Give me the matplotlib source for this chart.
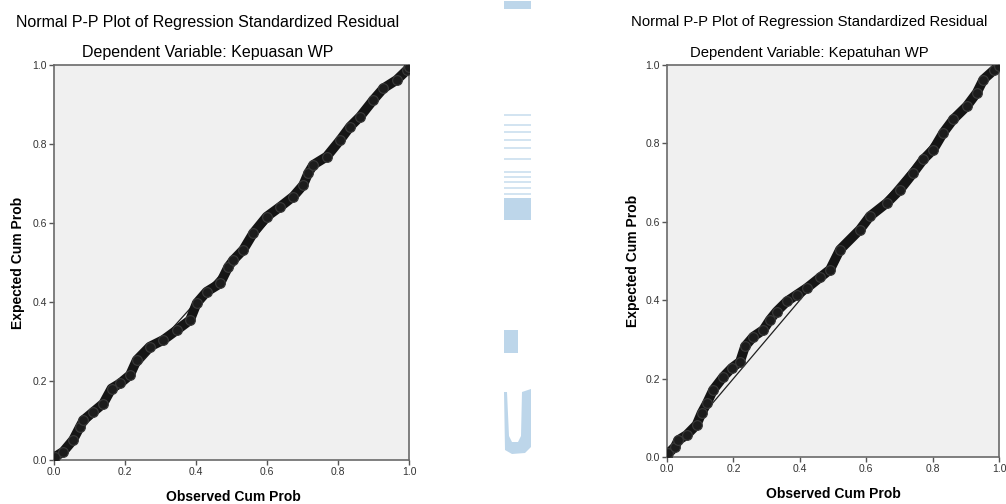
import matplotlib
matplotlib.use("Agg")
import matplotlib.pyplot as plt
from matplotlib.patches import Rectangle, Polygon

plt.rcParams['font.family'] = ['Liberation Sans', 'DejaVu Sans']

# ---------------- data ----------------
title_main = "Normal P-P Plot of Regression Standardized Residual"
dep_left = "Dependent Variable: Kepuasan WP"
dep_right = "Dependent Variable: Kepatuhan WP"
xlabel = "Observed Cum Prob"
ylabel = "Expected Cum Prob"
ticks = [0.0, 0.2, 0.4, 0.6, 0.8, 1.0]
tick_labels = ["0.0", "0.2", "0.4", "0.6", "0.8", "1.0"]

kep_obs = [0.0, 0.003, 0.026, 0.054, 0.073, 0.083, 0.111, 0.139, 0.162, 0.186,
           0.214, 0.233, 0.270, 0.308, 0.346, 0.383, 0.402, 0.430, 0.468, 0.491,
           0.505, 0.533, 0.561, 0.599, 0.637, 0.674, 0.702, 0.716, 0.730, 0.768,
           0.806, 0.834, 0.862, 0.899, 0.928, 0.965, 0.994, 1.0]
kep_exp = [0.0, 0.008, 0.021, 0.051, 0.084, 0.101, 0.122, 0.143, 0.181, 0.194,
           0.215, 0.253, 0.287, 0.304, 0.329, 0.354, 0.397, 0.426, 0.447, 0.489,
           0.506, 0.532, 0.574, 0.616, 0.641, 0.667, 0.696, 0.726, 0.747, 0.768,
           0.810, 0.844, 0.869, 0.911, 0.941, 0.962, 0.987, 0.995]

pat_obs = [0.0, 0.004, 0.024, 0.034, 0.059, 0.089, 0.104, 0.120, 0.139, 0.170,
           0.195, 0.220, 0.235, 0.260, 0.290, 0.310, 0.330, 0.361, 0.391, 0.421,
           0.461, 0.491, 0.521, 0.581, 0.611, 0.662, 0.702, 0.742, 0.772, 0.802,
           0.832, 0.862, 0.903, 0.933, 0.953, 0.986, 1.0]
pat_exp = [0.0, 0.009, 0.026, 0.043, 0.056, 0.082, 0.112, 0.137, 0.171, 0.205,
           0.227, 0.243, 0.282, 0.307, 0.324, 0.350, 0.371, 0.397, 0.414, 0.431,
           0.458, 0.478, 0.529, 0.580, 0.614, 0.648, 0.682, 0.725, 0.759, 0.784,
           0.827, 0.861, 0.895, 0.929, 0.963, 0.988, 0.997]

# ---------------- figure ----------------
W, H = 1006, 504
fig = plt.figure(figsize=(W / 100, H / 100), dpi=100)
fig.patch.set_facecolor("white")


def fx(x):
    return x / W


def fy(y):
    return 1 - y / H


def make_panel(box, obs, exp, dep, title_x, title_fs, xl_pos, yl_x):
    l, t, r, b = box
    ax = fig.add_axes([fx(l), fy(b), fx(r) - fx(l), fy(t) - fy(b)])
    ax.set_facecolor("#f0f0f0")
    ax.set_xlim(0, 1)
    ax.set_ylim(0, 1)
    ax.plot([0, 1], [0, 1], color="#202020", lw=0.9, zorder=2)
    ax.plot(obs, exp, color="#151515", lw=7, solid_capstyle="round",
            solid_joinstyle="round", zorder=3)
    ax.plot(obs, exp, linestyle="none", marker="o", ms=7, mfc="#1c1c1c",
            mec="#3a3a3a", mew=0.8, zorder=4)
    ax.set_xticks(ticks)
    ax.set_yticks(ticks)
    ax.set_xticklabels(tick_labels)
    ax.set_yticklabels(tick_labels)
    ax.tick_params(direction="out", length=3.5, width=1.0, color="#555555",
                   labelsize=7.5, labelcolor="#333333", pad=1.5)
    for s in ax.spines.values():
        s.set_color("#6a6a6a")
        s.set_linewidth(1.2)
    fig.text(fx(title_x), fy(22), title_main, ha="center", va="center",
             fontsize=title_fs, color="black")
    fig.text(fx(title_x), fy(53), dep, ha="center", va="center",
             fontsize=title_fs, color="black")
    fig.text(fx(xl_pos[0]), fy(xl_pos[1]), xlabel, ha="center", va="center",
             fontsize=10, fontweight="bold", color="black")
    fig.text(fx(yl_x), fy((t + b) / 2), ylabel, ha="center", va="center",
             rotation=90, fontsize=10, fontweight="bold", color="black")
    return ax


make_panel((54, 65, 409, 460), kep_obs, kep_exp, dep_left, 208, 11.5,
           (233, 497), 18)
make_panel((667, 65, 999, 457), pat_obs, pat_exp, dep_right, 809, 10.7,
           (833, 494), 633)

# ---------------- faint watermark in the middle ----------------
wm = "#bdd6ea"


def rect(x0, y0, x1, y1, color=wm):
    fig.add_artist(Rectangle((fx(x0), fy(y1)), fx(x1) - fx(x0), fy(y0) - fy(y1),
                             transform=fig.transFigure, facecolor=color,
                             edgecolor="none", zorder=0))


rect(504, 1, 531, 9)
for yy in [114, 124, 131, 139, 147, 158, 171, 176, 181, 187, 193]:
    rect(504, yy, 531, yy + 1.6, color="#d3e4f1")
rect(504, 198, 531, 220)
rect(504, 330, 518, 353)
u_pts = [(504, 392), (507, 392), (509, 436), (512, 442), (518, 442), (521, 436),
         (522, 392), (531, 389), (531, 447), (525, 453), (512, 454), (505, 450)]
fig.add_artist(Polygon([(fx(a), fy(b)) for a, b in u_pts], closed=True,
                       transform=fig.transFigure, facecolor=wm,
                       edgecolor="none", zorder=0))

fig.savefig("out.png", dpi=100, facecolor="white")
